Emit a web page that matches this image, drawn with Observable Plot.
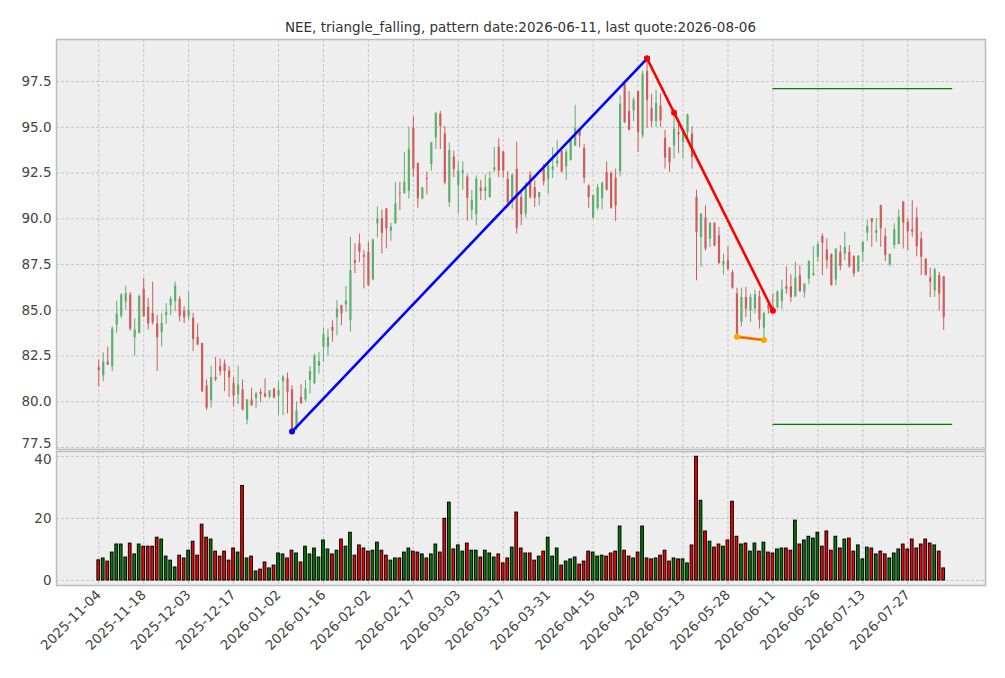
<!DOCTYPE html>
<html>
<head>
<meta charset="utf-8">
<script src="https://cdn.jsdelivr.net/npm/d3@7"></script>
<script src="https://cdn.jsdelivr.net/npm/@observablehq/plot@0.6"></script>
<style>
  html, body { margin: 0; padding: 0; background: #ffffff; }
  #wrap { position: relative; width: 1005px; height: 678px; font-family: "DejaVu Sans", sans-serif; }
  #title { position: absolute; top: 18px; left: 56px; width: 929px; text-align: center; font-size: 13.5px; line-height: 18px; color: #333; }
  #main { position: absolute; top: 34px; left: 0; }
  #vol { position: absolute; top: 446px; left: 0; }
</style>
</head>
<body>
<div id="wrap">
  <div id="title">NEE, triangle_falling, pattern date:2026-06-11, last quote:2026-08-06</div>
  <div id="main"></div>
  <div id="vol"></div>
</div>
<script>
const tickLabels = ["2025-11-04","2025-11-18","2025-12-03","2025-12-17","2026-01-02","2026-01-16","2026-02-02","2026-02-17","2026-03-03","2026-03-17","2026-03-31","2026-04-15","2026-04-29","2026-05-13","2026-05-28","2026-06-11","2026-06-26","2026-07-13","2026-07-27"];
const tickPositions = [0,10,20,30,40,50,60,70,80,90,100,110,120,130,140,150,160,170,180];
const priceTicks = [77.5,80,82.5,85,87.5,90,92.5,95,97.5];
const volumeTicks = [0,20,40];

const open = [81.86,81.41,82.17,81.92,84.19,84.68,85.46,85.83,83.50,83.74,
86.15,85.15,84.83,84.25,83.77,84.70,85.25,85.46,85.60,84.95,
84.65,84.55,83.52,83.19,80.86,80.06,81.32,81.92,82.06,81.68,
81.00,80.37,80.65,79.00,80.10,80.16,80.52,80.43,80.25,80.70,
80.30,81.10,81.25,80.65,78.60,80.25,80.10,81.16,81.00,81.94,
82.98,82.98,84.07,84.58,85.26,85.30,84.43,87.71,88.63,88.00,
88.17,86.66,89.72,89.99,90.54,89.32,89.72,91.40,91.36,91.50,
94.95,93.03,91.08,92.20,92.96,94.42,95.72,94.64,90.89,93.37,
91.83,92.50,92.28,90.47,90.22,91.67,91.49,91.16,92.65,93.91,
93.66,92.16,90.89,92.70,91.16,90.25,92.39,91.70,91.16,92.70,
92.16,92.65,93.00,93.70,92.83,93.19,93.97,94.82,93.84,91.79,
90.04,90.58,91.10,92.53,92.47,92.22,92.58,97.35,95.86,95.90,
96.95,94.53,98.05,96.04,95.31,96.17,94.40,93.86,93.98,94.71,
94.17,94.71,94.62,91.16,88.98,90.03,88.88,89.74,89.07,87.48,
87.70,87.06,85.90,84.33,85.70,84.97,85.06,85.73,84.02,85.30,
85.20,85.15,85.48,86.28,86.28,85.73,86.89,85.97,86.70,86.90,
87.90,89.03,88.30,88.04,86.65,88.17,88.08,88.17,87.93,87.10,
88.17,89.21,90.00,89.21,90.73,89.03,87.49,88.53,88.59,90.92,
89.80,89.40,90.05,88.90,87.80,86.76,86.06,86.89,86.83];
const high = [82.28,82.68,82.99,84.10,85.50,85.92,86.32,85.97,84.52,85.83,
86.74,85.65,86.54,84.74,84.83,85.37,85.74,86.54,85.74,85.19,
86.00,84.83,84.25,83.19,81.19,81.95,82.43,82.34,82.28,81.92,
81.32,81.95,81.19,80.10,80.74,80.52,80.70,81.25,80.60,80.70,
81.07,81.43,81.57,80.88,79.97,80.93,81.16,81.92,82.60,82.70,
84.03,83.98,84.43,85.53,85.26,86.30,88.99,88.63,89.17,88.26,
88.72,88.90,90.66,90.48,90.54,89.75,91.99,92.00,93.63,95.00,
95.58,93.03,91.72,92.54,94.18,95.82,95.87,95.05,94.15,93.70,
93.10,93.12,92.40,91.56,92.34,92.10,92.40,92.57,93.90,94.38,
93.66,92.57,92.43,94.20,91.52,91.97,92.57,92.07,91.43,92.97,
93.15,93.88,94.27,93.70,93.79,94.33,96.20,94.87,94.06,91.85,
91.30,91.88,92.00,93.11,92.58,92.71,96.72,97.35,96.95,96.62,
96.95,98.08,98.76,96.81,97.03,96.81,94.84,93.90,95.80,95.26,
94.90,95.72,95.02,91.56,90.29,90.71,89.80,89.80,89.52,88.06,
88.47,87.19,86.21,86.21,86.24,85.88,86.10,86.06,84.88,85.33,
85.90,86.06,86.65,87.38,86.94,87.62,87.44,86.43,87.71,88.48,
88.72,89.18,88.90,88.08,88.35,88.53,89.27,88.53,87.99,87.99,
88.72,89.91,90.00,90.00,90.73,89.45,88.08,89.73,90.49,90.92,
90.00,91.00,90.60,89.27,87.80,87.30,87.30,87.07,86.83];
const low = [80.83,81.10,82.00,81.65,83.74,84.55,85.00,83.86,82.50,83.70,
84.60,83.92,84.19,81.65,83.00,84.23,84.70,84.92,84.37,84.28,
84.46,82.74,83.06,80.50,79.52,79.65,81.10,81.41,80.55,80.23,
79.72,79.85,79.50,78.74,79.77,79.62,79.97,80.21,80.16,80.16,
79.24,79.24,79.33,78.37,78.42,79.88,79.97,80.43,80.93,81.50,
82.16,82.50,83.25,83.60,84.16,84.90,83.80,87.00,87.62,86.17,
86.30,86.60,88.95,88.08,88.35,88.77,89.72,90.45,91.36,91.08,
92.27,90.57,91.03,91.30,92.60,93.79,93.79,91.85,90.62,92.25,
90.25,91.56,89.86,89.93,89.62,91.01,90.98,91.12,92.52,92.25,
92.21,90.62,90.53,89.17,89.62,90.04,91.07,90.62,90.71,91.79,
91.34,92.20,92.79,92.52,92.10,93.15,93.97,93.88,91.92,90.58,
89.98,90.47,90.50,91.53,90.52,89.85,92.29,95.20,94.80,95.31,
93.62,94.40,94.95,94.99,94.99,94.99,92.71,92.53,93.26,93.57,
93.26,94.26,92.71,86.61,87.34,88.25,88.43,88.47,87.52,86.93,
87.16,86.15,83.55,84.09,84.60,84.33,84.79,83.97,83.37,84.79,
84.80,85.05,85.05,85.88,85.42,85.70,85.97,85.66,86.39,86.83,
87.62,86.89,87.25,86.34,86.34,87.16,87.71,87.30,86.80,87.07,
87.62,88.77,88.44,88.72,88.44,87.67,87.38,88.35,88.59,88.35,
88.26,88.99,87.93,86.89,86.89,85.70,85.70,84.96,83.90];
const close = [81.70,82.17,82.00,83.97,84.79,85.83,85.92,83.97,83.92,85.77,
84.65,84.25,84.32,83.50,84.28,84.90,85.60,86.32,84.65,84.59,
85.00,83.40,83.10,80.55,79.65,81.32,81.20,81.65,81.65,81.32,
80.32,80.92,79.55,80.10,79.77,80.43,80.39,80.25,80.60,80.20,
80.60,81.34,80.52,78.42,79.50,79.88,80.70,81.66,82.50,82.20,
83.67,83.52,83.85,85.07,84.80,85.50,87.17,87.57,88.17,87.90,
86.35,88.84,89.99,89.20,89.44,89.54,90.81,91.36,92.00,93.80,
92.72,91.08,91.68,92.15,94.15,95.73,95.05,91.97,93.73,92.70,
92.60,92.62,91.12,91.01,92.16,91.49,91.70,92.20,92.79,92.61,
92.61,90.89,92.39,89.49,90.22,91.79,91.16,91.12,91.43,92.03,
92.88,92.83,93.15,92.55,93.64,94.28,94.93,94.51,92.21,91.16,
91.25,91.70,91.95,91.56,90.58,90.70,96.26,95.26,94.84,96.48,
94.71,97.90,96.48,95.31,96.30,95.35,93.31,93.07,94.90,94.59,
94.80,95.68,93.35,89.25,90.25,88.34,89.74,88.52,87.55,87.66,
87.25,86.21,83.69,85.70,85.06,85.70,85.84,84.46,84.82,85.06,
84.97,86.00,86.12,86.15,85.70,86.76,86.03,86.43,87.66,87.00,
88.59,88.66,87.71,86.34,88.35,87.38,88.44,87.38,86.98,87.95,
88.72,89.58,89.80,89.36,89.45,87.99,88.04,89.40,90.09,89.76,
89.30,89.27,88.48,87.90,86.89,86.52,87.20,85.88,84.60];
const volume = [6.5,7.1,6.1,9.0,11.6,11.6,7.4,11.9,8.4,11.6,
10.9,10.9,10.9,13.8,13.2,7.7,6.4,4.2,8.0,7.1,
9.6,12.5,8.0,18.0,13.8,13.2,9.3,7.7,9.3,6.4,
10.3,9.0,30.5,7.1,7.7,2.9,3.5,5.8,3.9,4.8,
8.7,8.4,7.1,9.6,8.7,5.8,10.9,8.4,10.3,7.4,
12.9,10.0,8.4,9.6,13.2,10.9,15.4,8.0,11.3,10.3,
9.3,9.6,12.2,9.6,8.0,6.4,7.1,7.1,9.0,10.3,
9.3,9.0,8.4,7.1,8.4,11.6,9.0,19.9,25.1,10.0,
11.3,9.3,11.9,9.6,9.6,7.4,9.6,8.7,7.4,8.4,
5.5,7.1,10.6,21.9,10.3,8.7,8.7,6.4,7.7,9.3,
13.8,7.7,10.3,4.8,6.1,6.8,7.4,5.1,6.1,9.3,
9.0,7.7,8.0,7.7,8.7,9.3,17.4,9.6,7.7,7.1,
9.0,17.4,7.1,6.8,7.1,8.0,9.6,6.1,7.1,6.8,
6.8,5.5,11.3,39.9,25.7,15.8,12.5,10.6,11.6,10.9,
12.9,25.4,14.1,11.6,11.9,9.3,11.9,9.3,12.2,9.0,
8.7,10.0,10.3,10.3,9.6,19.3,11.6,12.9,14.1,13.5,
15.4,10.9,15.8,9.6,14.1,10.3,13.2,13.5,9.3,11.3,
6.8,10.6,10.3,8.4,9.3,8.4,7.1,8.7,10.0,11.6,
10.0,13.2,10.3,11.6,13.2,11.9,11.3,9.3,3.9];

// pattern lines (bar index, price)
const upperLine = [{i:43, p:78.37},{i:122, p:98.76}];
const fallLine = [{i:122, p:98.76},{i:128, p:95.80},{i:150, p:84.97}];
const lowLine = [{i:142, p:83.55},{i:148, p:83.37}];
const levelStart = 150, levelEnd = 190;
const levels = [97.12, 78.76];

const rows = open.map((o, i) => ({i, o, h: high[i], l: low[i], c: close[i], v: volume[i], up: close[i] >= o}));
const ups = rows.filter(d => d.up), downs = rows.filter(d => !d.up);

const candleUp = "#5fae70", candleDown = "#cf5c5c";
const gridStyle = {stroke: "#b4b4b4", strokeOpacity: 1, strokeWidth: 0.7, strokeDasharray: "3,2"};
const xDomain = [-9.4, 197.3];
const common = {
  width: 1005, marginLeft: 56, marginRight: 20,
  style: {background: "transparent", fontFamily: "DejaVu Sans, sans-serif", fontSize: "13.5px", color: "#444", overflow: "visible"}
};

const main = Plot.plot({
  ...common,
  height: 420, marginTop: 5, marginBottom: 5,
  x: {domain: xDomain, axis: null},
  y: {domain: [77.39, 99.8], axis: null},
  marks: [
    Plot.frame({fill: "#eeeeee", stroke: null}),
    Plot.gridX(tickPositions, gridStyle),
    Plot.gridY(priceTicks, gridStyle),
    Plot.axisY(priceTicks.slice(1), {tickFormat: d => d.toFixed(1), tickSize: 0, tickPadding: 5, label: null}),
    Plot.axisY(priceTicks.slice(0, 1), {tickFormat: d => d.toFixed(1), tickSize: 0, tickPadding: 5, label: null, dy: -4}),
    Plot.ruleX(ups, {x: "i", y1: "l", y2: "h", stroke: candleUp, strokeWidth: 1}),
    Plot.ruleX(downs, {x: "i", y1: "l", y2: "h", stroke: candleDown, strokeWidth: 1}),
    Plot.ruleX(ups, {x: "i", y1: "o", y2: "c", stroke: candleUp, strokeWidth: 2.2}),
    Plot.ruleX(downs, {x: "i", y1: "o", y2: "c", stroke: candleDown, strokeWidth: 2.2}),
    Plot.line(upperLine, {x: "i", y: "p", stroke: "#0000ff", strokeWidth: 2.6}),
    Plot.dot(upperLine, {x: "i", y: "p", fill: "#0000ff", r: 3}),
    Plot.line(fallLine, {x: "i", y: "p", stroke: "#ff0000", strokeWidth: 2.6}),
    Plot.dot(fallLine, {x: "i", y: "p", fill: "#ff0000", r: 3}),
    Plot.line(lowLine, {x: "i", y: "p", stroke: "#ffa500", strokeWidth: 3}),
    Plot.line(lowLine, {x: "i", y: "p", stroke: "#ff2a00", strokeWidth: 1}),
    Plot.dot(lowLine, {x: "i", y: "p", fill: "#ffa500", r: 3}),
    Plot.ruleY(levels, {x1: levelStart, x2: levelEnd, stroke: "#008000", strokeWidth: 1.3}),
    Plot.frame({stroke: "#bcbcbc", strokeWidth: 1.5})
  ]
});
document.getElementById("main").appendChild(main);

const vol = Plot.plot({
  ...common,
  height: 229, marginTop: 5, marginBottom: 90,
  x: {domain: xDomain, ticks: tickPositions, tickFormat: d => tickLabels[tickPositions.indexOf(d)], tickRotate: -45, tickSize: 0, tickPadding: 7, label: null},
  y: {domain: [-1.61, 41.6], axis: null},
  marks: [
    Plot.frame({fill: "#eeeeee", stroke: null}),
    Plot.gridX(tickPositions, gridStyle),
    Plot.gridY(volumeTicks, gridStyle),
    Plot.axisY(volumeTicks.slice(0, 2), {tickFormat: d => String(d), tickSize: 0, tickPadding: 5, label: null}),
    Plot.axisY(volumeTicks.slice(2), {tickFormat: d => String(d), tickSize: 0, tickPadding: 5, label: null, dy: 3}),
    Plot.rect(ups, {x1: d => d.i - 0.3, x2: d => d.i + 0.3, y1: 0, y2: "v", fill: "#008000", stroke: "#000000", strokeWidth: 1}),
    Plot.rect(downs, {x1: d => d.i - 0.3, x2: d => d.i + 0.3, y1: 0, y2: "v", fill: "#ff0000", stroke: "#000000", strokeWidth: 1}),
    Plot.frame({stroke: "#bcbcbc", strokeWidth: 1.5})
  ]
});
document.getElementById("vol").appendChild(vol);
</script>
</body>
</html>
